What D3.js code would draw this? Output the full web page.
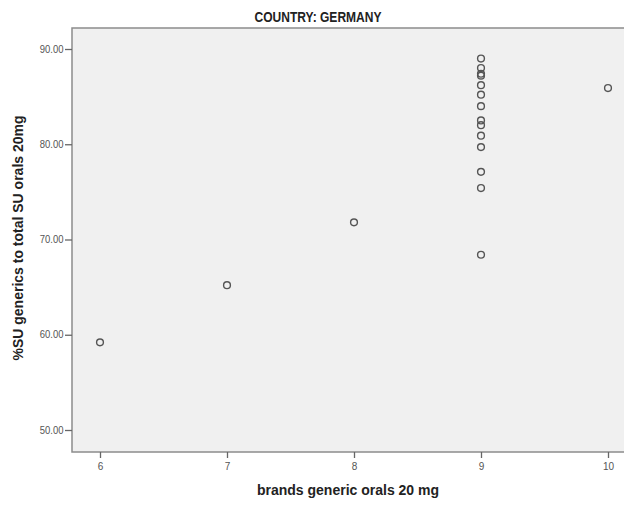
<!DOCTYPE html>
<html>
<head>
<meta charset="utf-8">
<script src="https://cdn.jsdelivr.net/npm/d3@7"></script>
<style>
  html, body { margin: 0; padding: 0; background: #fff; }
  svg { display: block; }
</style>
</head>
<body>
<div id="chart"></div>
<script>
// Germany: number of generic brands vs. share of SU generics (20 mg orals)
const brands = [6, 7, 8, 9, 9, 9, 9, 9, 9, 9, 9, 9, 9, 9, 9, 9, 9, 10];
const pctGenerics = [59.2, 65.2, 71.8, 89.0, 88.0, 87.4, 87.2, 86.2, 85.2, 84.0, 82.5, 82.0, 80.9, 79.7, 77.1, 75.4, 68.4, 85.9];
const xTicks = [6, 7, 8, 9, 10];
const yTicks = [50, 60, 70, 80, 90];

const W = 624, H = 505;
const plot = { left: 72, top: 28, right: 640, bottom: 452 };

const x = d3.scaleLinear().domain([6, 10]).range([100, 608]);
const y = d3.scaleLinear().domain([50, 90]).range([430, 49]);

const svg = d3.select("#chart").append("svg")
  .attr("width", W).attr("height", H);

const sans = "'Liberation Sans', Arial, sans-serif";

// plot background
svg.append("rect")
  .attr("x", plot.left).attr("y", plot.top)
  .attr("width", plot.right - plot.left).attr("height", plot.bottom - plot.top)
  .attr("fill", "#f0f0f0")
  .attr("stroke", "#8c8c8c").attr("stroke-width", 1.5);

// title (condensed bold)
svg.append("text")
  .attr("transform", "translate(318,21.5) scale(0.86,1)")
  .attr("text-anchor", "middle")
  .attr("font-family", sans).attr("font-weight", "bold")
  .attr("font-size", 14).attr("fill", "#222")
  .text("COUNTRY: GERMANY");

// axes
const xAxis = d3.axisBottom(x).tickValues(xTicks).tickFormat(d3.format("d"))
  .tickSize(6).tickPadding(5);
const yAxis = d3.axisLeft(y).tickValues(yTicks).tickFormat(d3.format(".2f"))
  .tickSize(7).tickPadding(2);

const gx = svg.append("g").attr("transform", `translate(0,${plot.bottom})`).call(xAxis);
const gy = svg.append("g").attr("transform", `translate(${plot.left},0)`).call(yAxis);

[gx, gy].forEach(g => {
  g.select(".domain").remove();
  g.selectAll(".tick line").attr("stroke", "#666").attr("stroke-width", 1.3);
  g.selectAll(".tick text")
    .attr("font-family", sans).attr("font-size", 10).attr("fill", "#555");
});
gy.selectAll(".tick text").attr("transform", "scale(0.95,1)");

// axis titles
svg.append("text")
  .attr("x", 348).attr("y", 495)
  .attr("text-anchor", "middle")
  .attr("font-family", sans).attr("font-weight", "bold")
  .attr("font-size", 14).attr("fill", "#222")
  .text("brands generic orals 20 mg");

svg.append("text")
  .attr("transform", "translate(23,238) rotate(-90)")
  .attr("text-anchor", "middle")
  .attr("font-family", sans).attr("font-weight", "bold")
  .attr("font-size", 14).attr("fill", "#222")
  .text("%SU generics to total SU orals 20mg");

// markers
svg.append("g").selectAll("circle")
  .data(brands.map((b, i) => ({ b, v: pctGenerics[i] })))
  .join("circle")
  .attr("cx", d => x(d.b))
  .attr("cy", d => y(d.v))
  .attr("r", 3.4)
  .attr("fill", "none")
  .attr("stroke", "#555")
  .attr("stroke-width", 1.4);
</script>
</body>
</html>
